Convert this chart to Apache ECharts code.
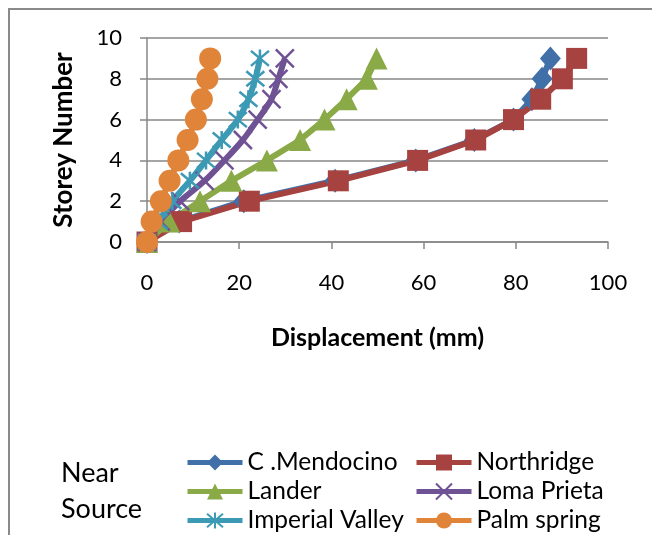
<!DOCTYPE html>
<html>
<head>
<meta charset="utf-8">
<script src="https://cdn.jsdelivr.net/npm/echarts@6/dist/echarts.min.js"></script>
<style>
  html, body { margin: 0; padding: 0; background: #fff; }
  #wrap { position: relative; width: 652px; height: 535px; overflow: hidden; }
  #frame {
    position: absolute; left: 8px; top: 8px; width: 700px; height: 600px;
    border-top: 2px solid #8a8a8a; border-left: 2px solid #8a8a8a;
  }
  #chart { position: absolute; left: 0; top: 0; width: 652px; height: 535px; }
</style>
</head>
<body>
<div id="wrap">
  <div id="frame"></div>
  <div id="chart"></div>
</div>
<script>
const storeys = [0, 1, 2, 3, 4, 5, 6, 7, 8, 9];

const mendocino = [0, 7, 21, 40.8, 58.3, 71, 79.5, 83.5, 85.7, 87.5];
const northridge = [0, 7.5, 22.2, 41.5, 58.7, 71.3, 79.5, 85.4, 90.1, 93.2];
const lander = [0, 4.8, 11.5, 18.3, 26, 33.2, 38.5, 43.3, 47.7, 49.8];
const lomaPrieta = [0, 3, 7.2, 12.5, 16.8, 20.8, 24, 27, 28.5, 29.9];
const imperialValley = [0, 2.5, 5.5, 9.3, 12.8, 16.2, 19.7, 22, 23.5, 24.5];
const palmSpring = [0, 1, 3, 4.9, 6.8, 8.8, 10.6, 11.9, 13.1, 13.7];

const xTicks = [0, 20, 40, 60, 80, 100];
const yTicks = [0, 2, 4, 6, 8, 10];

const fontFamily = "Lato";
const gridColor = "#878787";

const crossPath = "path://M0,0L10,10M10,0L0,10";
const starPath = "path://M0,0L10,10M10,0L0,10M5,-1L5,11";

function pairs(values) {
  return values.map((v, i) => [v, storeys[i]]);
}

function makeSeries(name, values, color, symbol, size, opts) {
  return Object.assign({
    name: name,
    type: "line",
    data: pairs(values),
    symbol: symbol,
    symbolSize: size,
    showAllSymbol: true,
    lineStyle: { color: color, width: 6 },
    itemStyle: { color: color },
    emphasis: { disabled: true },
  }, opts || {});
}

const series = [
  makeSeries("C .Mendocino", mendocino, "#4170a9", "diamond", [21, 24]),
  makeSeries("Northridge", northridge, "#a6423f", "rect", 21),
  makeSeries("Lander", lander, "#8aaa47", "triangle", 22),
  makeSeries("Loma Prieta", lomaPrieta, "#6f5294", crossPath, 18, {
    smooth: 0.3,
    itemStyle: { color: "#6f5294", borderColor: "#6f5294", borderWidth: 2.5 },
  }),
  makeSeries("Imperial Valley", imperialValley, "#3c9ab5", starPath, 18, {
    smooth: 0.3,
    itemStyle: { color: "#3c9ab5", borderColor: "#3c9ab5", borderWidth: 2.5 },
  }),
  makeSeries("Palm spring", palmSpring, "#e0843a", "circle", 22),
];

const legendText = { fontFamily: fontFamily, fontSize: 24.5, color: "#000", lineHeight: 22 };

function legendColumn(left, names) {
  return {
    orient: "vertical",
    left: left,
    top: 450,
    height: 120,
    padding: 0,
    itemWidth: 55,
    itemHeight: 20,
    itemGap: 4,
    lineStyle: { width: 5 },
    textStyle: legendText,
    data: names,
  };
}

const chart = echarts.init(document.getElementById("chart"), null, { renderer: "canvas" });

chart.setOption({
  animation: false,
  title: {
    text: "Near\nSource",
    left: 56,
    top: 450,
    textStyle: { fontFamily: fontFamily, fontSize: 27, fontWeight: "normal", color: "#000", lineHeight: 36 },
  },
  grid: {
    left: 147,
    right: 44,
    top: 38,
    bottom: 293,
  },
  legend: [
    legendColumn(185, ["C .Mendocino", "Lander", "Imperial Valley"]),
    legendColumn(414, ["Northridge", "Loma Prieta", "Palm spring"]),
  ],
  xAxis: {
    type: "value",
    min: xTicks[0],
    max: xTicks[xTicks.length - 1],
    interval: 20,
    name: "Displacement (mm)",
    nameLocation: "middle",
    nameGap: 83,
    nameTextStyle: { fontFamily: fontFamily, fontSize: 25, fontWeight: "bold", color: "#000" },
    axisLine: { show: true, lineStyle: { color: gridColor, width: 1.5 } },
    axisTick: { show: true, length: 7, lineStyle: { color: gridColor, width: 1.5 } },
    axisLabel: { margin: 30, fontFamily: fontFamily, fontSize: 22, color: "#000" },
    splitLine: { show: false },
  },
  yAxis: {
    type: "value",
    min: yTicks[0],
    max: yTicks[yTicks.length - 1],
    interval: 2,
    name: "Storey Number",
    nameLocation: "middle",
    nameGap: 70,
    nameTextStyle: { fontFamily: fontFamily, fontSize: 26, fontWeight: "bold", color: "#000" },
    axisLine: { show: true, lineStyle: { color: gridColor, width: 1.5 } },
    axisTick: { show: true, length: 7, lineStyle: { color: gridColor, width: 1.5 } },
    axisLabel: { margin: 25, fontFamily: fontFamily, fontSize: 22, color: "#000" },
    splitLine: { show: true, lineStyle: { color: gridColor, width: 1.5 } },
  },
  series: series,
});
</script>
</body>
</html>
